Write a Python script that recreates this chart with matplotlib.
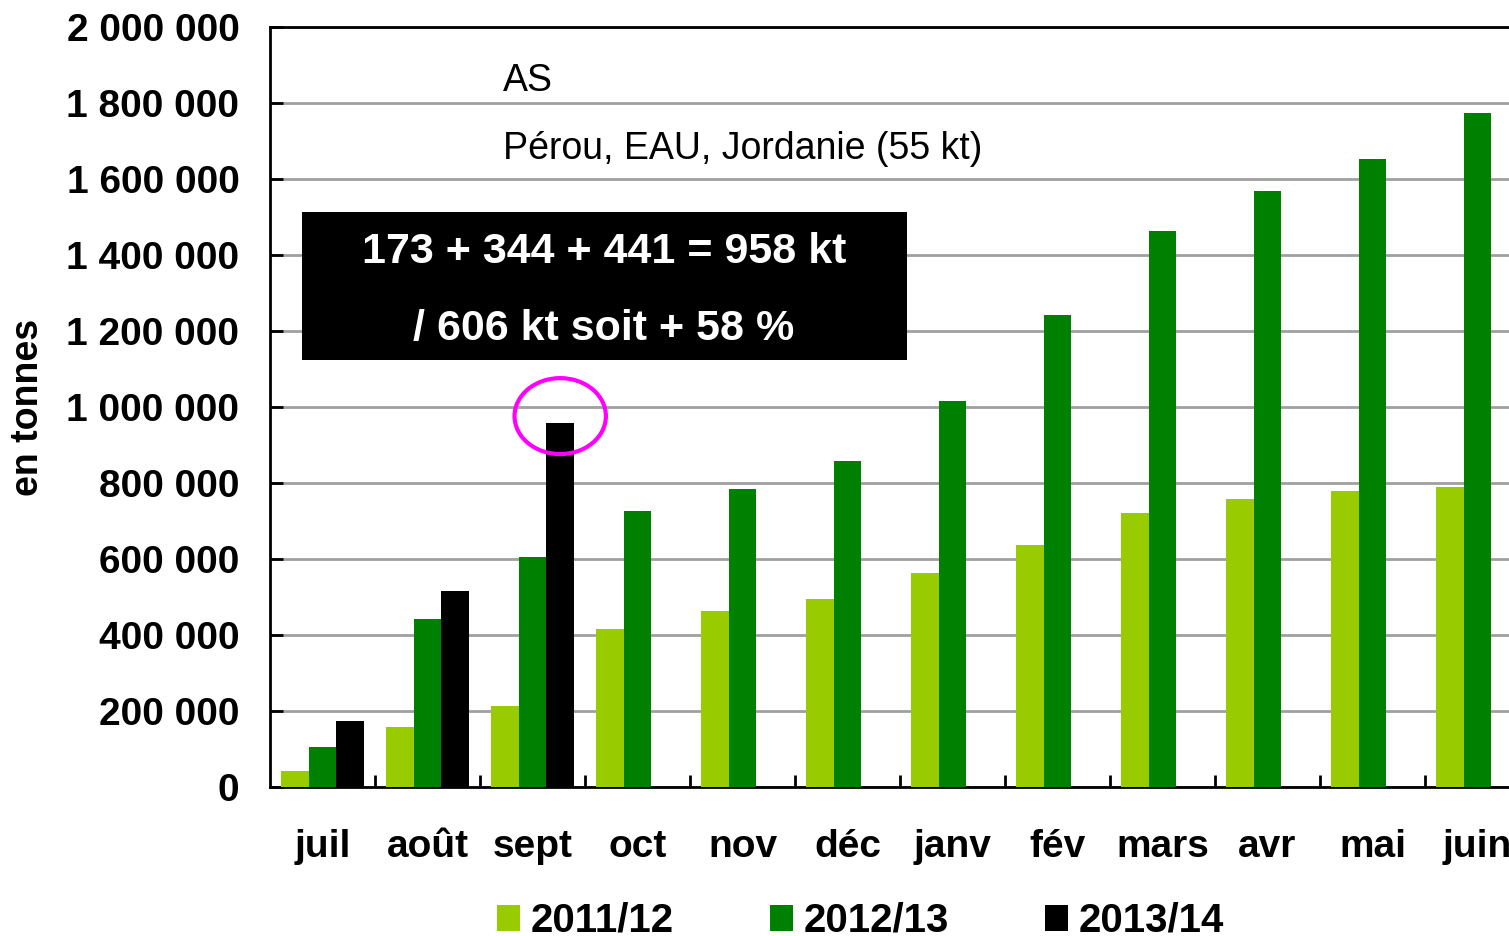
import matplotlib.pyplot as plt
from matplotlib.patches import Rectangle, Ellipse
from matplotlib.ticker import FuncFormatter, FixedLocator
import numpy as np

plt.rcParams['font.family'] = ['Liberation Sans', 'DejaVu Sans']

months = ['juil', 'août', 'sept', 'oct', 'nov', 'déc', 'janv', 'fév',
          'mars', 'avr', 'mai', 'juin']
seasons = ['2011/12', '2012/13', '2013/14']
colors = ['#99cc00', '#008000', '#000000']

# cumulative exports, tonnes
s2011 = [42000, 158000, 213000, 416000, 463000, 495000, 563000, 637000,
         721000, 758000, 779000, 789000]
s2012 = [105000, 442000, 606000, 726000, 784000, 858000, 1016000, 1242000,
         1463000, 1568000, 1653000, 1774000]
s2013 = [173000, 517000, 958000]

title = 'AS'
subtitle = 'Pérou, EAU, Jordanie (55 kt)'
box_lines = ['173 + 344 + 441 = 958 kt', '/ 606 kt soit + 58 %']

FS = 28

fig = plt.figure(figsize=(15.09, 9.36), dpi=100)
# axes runs a little past the right edge of the figure
ax = fig.add_axes([270/1509, 1-787/936, 1260/1509, 760/936])

w = 0.264
x = np.arange(len(months))
series = [s2011, s2012, s2013]
for i, (vals, c, lab) in enumerate(zip(series, colors, seasons)):
    xs = x[:len(vals)] + (i - 1) * w
    ax.bar(xs, vals, width=w, color=c, label=lab, zorder=3)

ax.set_xlim(-0.5, len(months) - 0.5)
ax.set_ylim(0, 2000000)
ax.set_yticks(np.arange(0, 2000001, 200000))
ax.yaxis.set_major_formatter(FuncFormatter(lambda v, p: f'{int(v):,}'.replace(',', ' ')))
ax.set_xticks(x)
ax.set_xticklabels(months)
ax.xaxis.set_minor_locator(FixedLocator(np.arange(0.5, len(months) - 0.5, 1)))

ax.tick_params(axis='x', which='major', length=0, pad=30, labelsize=FS)
ax.tick_params(axis='x', which='minor', direction='in', length=9, width=2)
ax.tick_params(axis='y', direction='in', length=9, width=2, pad=22, labelsize=FS)
for lbl in ax.get_xticklabels() + ax.get_yticklabels():
    lbl.set_fontweight('bold')

ax.grid(axis='y', color='#a0a0a0', lw=2, zorder=0)
ax.set_axisbelow(True)
for sp in ax.spines.values():
    sp.set_linewidth(2)
    sp.set_color('black')

ax.set_ylabel('en tonnes', fontsize=FS - 1, fontweight='bold')
ax.yaxis.set_label_coords(-0.178, 0.5)

ax.text(0.185, 0.929, title, transform=ax.transAxes, fontsize=FS - 1,
        ha='left', va='center')
ax.text(0.185, 0.840, subtitle, transform=ax.transAxes, fontsize=FS - 1,
        ha='left', va='center')

# black summary box
ax.add_patch(Rectangle((0.0254, 0.5618), 0.4802, 0.1948, transform=ax.transAxes,
                       facecolor='black', edgecolor='none', zorder=5))
ax.text(0.265, 0.704, box_lines[0], transform=ax.transAxes, fontsize=31,
        fontweight='bold', color='white', ha='center', va='center', zorder=6)
ax.text(0.265, 0.603, box_lines[1], transform=ax.transAxes, fontsize=31,
        fontweight='bold', color='white', ha='center', va='center', zorder=6)

# highlight the current month
ax.add_patch(Ellipse((2 + w, s2013[2] + 18000), 0.87, 200000, facecolor='none',
                     edgecolor='#ff00ff', lw=3, zorder=7, clip_on=False))

handles, labels = ax.get_legend_handles_labels()
leg = fig.legend(handles, labels, loc='center left', bbox_to_anchor=(497/1509, 1-921/936),
                 ncol=3, frameon=False, prop={'size': 29, 'weight': 'bold'},
                 handlelength=0.57, handleheight=0.62, handletextpad=0.27,
                 columnspacing=2.38, borderpad=0, borderaxespad=0)

fig.savefig('out.png', dpi=100)
